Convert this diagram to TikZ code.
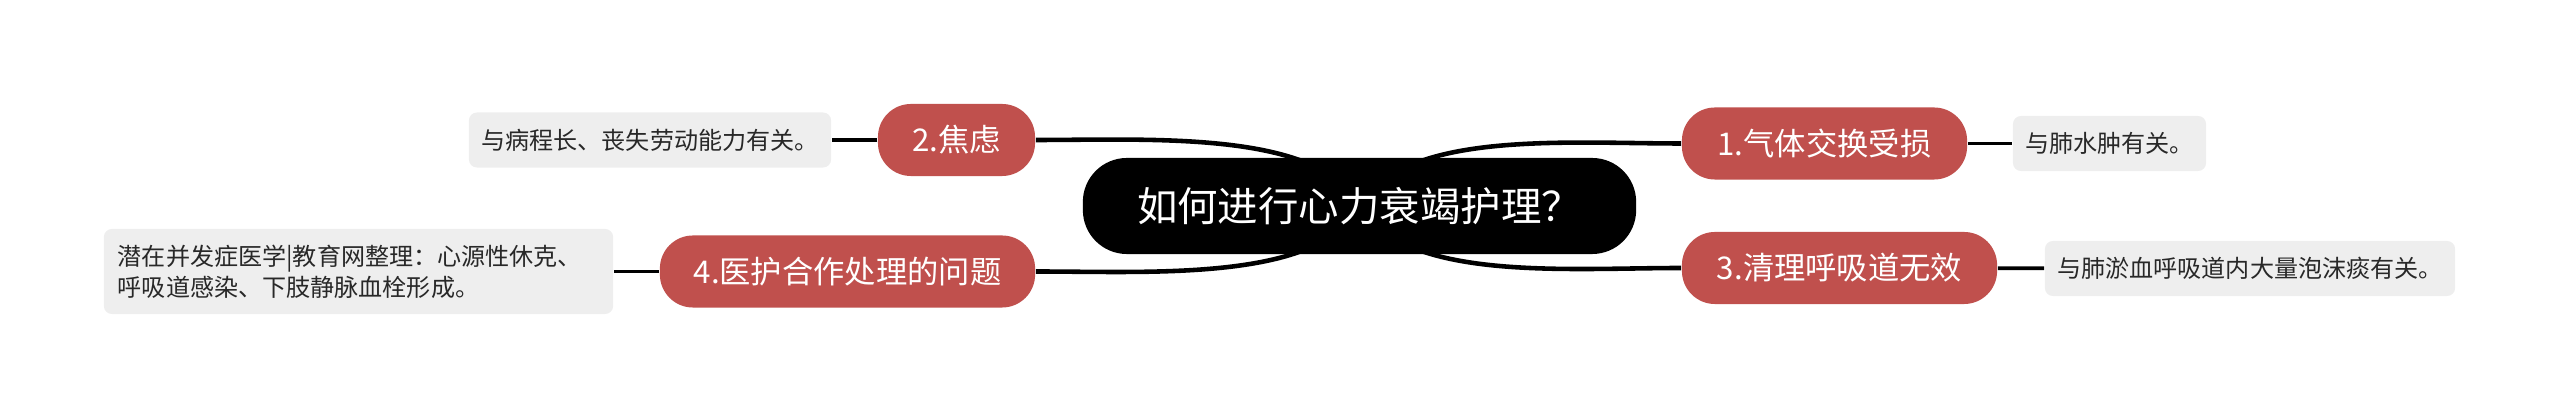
\documentclass[tikz,border=0pt]{standalone}
\usepackage{fontspec}
\setmainfont{Noto Sans CJK SC}
\usetikzlibrary{backgrounds}
\tikzset{
  topic/.style={fill=black, text=white, rounded corners=0.44cm, minimum width=5.53cm,
    minimum height=0.96cm, inner sep=0pt, font=\fontsize{11.5pt}{13pt}\selectfont},
  branch/.style={fill=branchred, text=white, rounded corners=0.33cm, minimum height=0.72cm,
    inner sep=0pt, font=\fontsize{8.9pt}{10pt}\selectfont},
  leaf/.style={fill=leafgray, text=leaftext, rounded corners=0.08cm, minimum height=0.55cm,
    inner sep=0pt, font=\fontsize{6.85pt}{8.9pt}\selectfont},
  link/.style={line width=1.3pt, black},
}

\begin{document}
\begin{tikzpicture}[x=0.01cm,y=-0.01cm]
      \definecolor{branchred}{RGB}{192,80,77}
      \definecolor{leafgray}{RGB}{238,238,238}
      \definecolor{leaftext}{RGB}{40,40,40}
\useasboundingbox (0,0) rectangle (2560,419);

% the main topic in the middle
\node[topic] (c) at (1359.5,206) {如何进行心力衰竭护理？};

% four red branches, two on each side
\node[branch, minimum width=2.85cm] (n1) at (1824.5,143.5) {1.气体交换受损};
\node[branch, minimum width=1.57cm] (n2) at (956.5,140) {2.焦虑};
\node[branch, minimum width=3.15cm] (n3) at (1839.5,268) {3.清理呼吸道无效};
\node[branch, minimum width=3.75cm] (n4) at (847.5,271.5) {4.医护合作处理的问题};

% grey notes at the outer ends
\node[leaf, minimum width=1.93cm] (l1) at (2109.5,143.5) {与肺水肿有关。};
\node[leaf, minimum width=3.62cm] (l2) at (650,140) {与病程长、丧失劳动能力有关。};
\node[leaf, minimum width=4.10cm] (l3) at (2250,268.5) {与肺淤血呼吸道内大量泡沫痰有关。};
\node[leaf, minimum height=0.85cm, text width=4.81cm, align=left, inner xsep=0.14cm] (l4)
  at (358.5,271.5) {潜在并发症医学|教育网整理：心源性休克、\\呼吸道感染、下肢静脉血栓形成。};

% connectors, behind the nodes
\begin{pgfonlayer}{background}
\draw[link] (c.center) .. controls +(45,-76) and +(-115,0) .. (n1.west);
\draw[link] (c.center) .. controls +(-39,-76) and +(115,0) .. (n2.east);
\draw[link] (c.center) .. controls +(45,76) and +(-115,0) .. (n3.west);
\draw[link] (c.center) .. controls +(-39,76) and +(115,0) .. (n4.east);
\end{pgfonlayer}

\draw[link, line width=1.1pt] (n1) -- (l1);
\draw[link, line width=1.1pt] (n2) -- (l2);
\draw[link, line width=1.1pt] (n3) -- (l3);
\draw[link, line width=1.1pt] (n4) -- (l4);
\end{tikzpicture}
\end{document}
